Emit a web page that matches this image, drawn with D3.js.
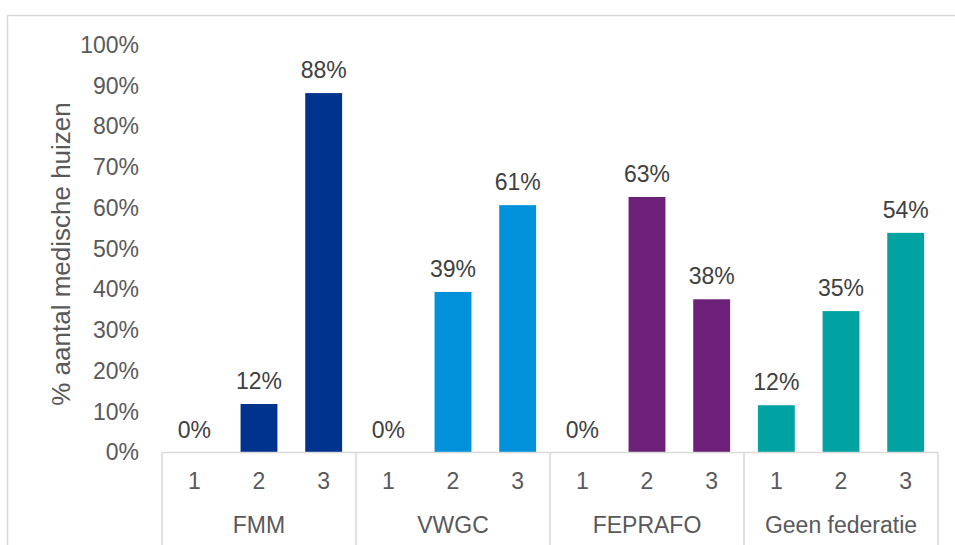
<!DOCTYPE html>
<html>
<head>
<meta charset="utf-8">
<script src="https://cdn.jsdelivr.net/npm/d3@7"></script>
<style>
  body { margin: 0; background: #fff; }
  svg text { font-family: "Liberation Sans", Arial, sans-serif; }
</style>
</head>
<body>
<div id="chart"></div>
<script>
// data
const groups = ["FMM", "VWGC", "FEPRAFO", "Geen federatie"];
const subs = ["1", "2", "3"];
const fmm = [0, 0.119, 0.882];
const vwgc = [0, 0.394, 0.607];
const feprafo = [0, 0.627, 0.376];
const geen = [0.116, 0.347, 0.539];
const colors = ["#00338D", "#0091DA", "#6D2077", "#00A3A1"];
const yTicks = [0, 0.1, 0.2, 0.3, 0.4, 0.5, 0.6, 0.7, 0.8, 0.9, 1];

const series = [fmm, vwgc, feprafo, geen];
const data = groups.map((g, i) => ({
  group: g,
  color: colors[i],
  values: subs.map((s, j) => ({ sub: s, value: series[i][j] }))
}));

const width = 955, height = 545;
const margin = { top: 45, right: 17, bottom: 92.5, left: 162 };

const svg = d3.select("#chart")
  .append("svg")
  .attr("width", width)
  .attr("height", height);

// chart frame (runs off the right and bottom edge)
svg.append("rect")
  .attr("x", 7.5)
  .attr("y", 15.5)
  .attr("width", 1000)
  .attr("height", 600)
  .attr("fill", "none")
  .attr("stroke", "#d9d9d9")
  .attr("stroke-width", 1.5);

const x0 = d3.scaleBand()
  .domain(groups)
  .range([margin.left, width - margin.right]);

const x1 = d3.scaleBand()
  .domain(subs)
  .range([0, x0.bandwidth()])
  .paddingInner(0.43)
  .paddingOuter(0.215);

const y = d3.scaleLinear()
  .domain([0, 1])
  .range([height - margin.bottom, margin.top]);

// y axis
const yAxis = svg.append("g")
  .attr("transform", "translate(" + margin.left + ",0)")
  .call(d3.axisLeft(y).tickValues(yTicks).tickSize(0).tickPadding(23).tickFormat(d3.format(".0%")));
yAxis.select(".domain").remove();
yAxis.selectAll("text")
  .attr("fill", "#595959")
  .style("font-size", "23px");

// axis title
svg.append("text")
  .attr("transform", "translate(70," + 254 + ") rotate(-90)")
  .attr("text-anchor", "middle")
  .attr("fill", "#595959")
  .style("font-size", "26px")
  .text("% aantal medische huizen");

// bars
const grp = svg.selectAll(".grp")
  .data(data)
  .enter()
  .append("g")
  .attr("class", "grp")
  .attr("transform", (d) => "translate(" + x0(d.group) + ",0)");

grp.selectAll("rect")
  .data((d) => d.values.map((v) => ({ ...v, color: d.color })))
  .enter()
  .append("rect")
  .attr("x", (d) => x1(d.sub))
  .attr("y", (d) => y(d.value))
  .attr("width", x1.bandwidth())
  .attr("height", (d) => y(0) - y(d.value))
  .attr("fill", (d) => d.color);

// value labels
grp.selectAll(".val")
  .data((d) => d.values)
  .enter()
  .append("text")
  .attr("class", "val")
  .attr("x", (d) => x1(d.sub) + x1.bandwidth() / 2)
  .attr("y", (d) => y(d.value) - 15)
  .attr("text-anchor", "middle")
  .attr("fill", "#404040")
  .style("font-size", "23px")
  .text((d) => d3.format(".0%")(d.value));

// category axis line
svg.append("line")
  .attr("x1", margin.left)
  .attr("x2", width - margin.right)
  .attr("y1", y(0))
  .attr("y2", y(0))
  .attr("stroke", "#d9d9d9")
  .attr("stroke-width", 1.5);

// group separators
const edges = groups.map((g) => x0(g)).concat([x0.range()[1]]);
svg.selectAll(".sep")
  .data(edges)
  .enter()
  .append("line")
  .attr("class", "sep")
  .attr("x1", (d) => d)
  .attr("x2", (d) => d)
  .attr("y1", y(0))
  .attr("y2", height + 5)
  .attr("stroke", "#d9d9d9")
  .attr("stroke-width", 1.5);

// sub labels
grp.each(function () {
  const ax = d3.select(this).append("g")
    .attr("transform", "translate(0," + y(0) + ")")
    .call(d3.axisBottom(x1).tickSize(0).tickPadding(20));
  ax.select(".domain").remove();
  ax.selectAll("text")
    .attr("fill", "#595959")
    .style("font-size", "23px");
});

// group labels
svg.selectAll(".glabel")
  .data(groups)
  .enter()
  .append("text")
  .attr("class", "glabel")
  .attr("x", (d) => x0(d) + x0.bandwidth() / 2)
  .attr("y", 533)
  .attr("text-anchor", "middle")
  .attr("fill", "#595959")
  .style("font-size", "23px")
  .text((d) => d);
</script>
</body>
</html>
